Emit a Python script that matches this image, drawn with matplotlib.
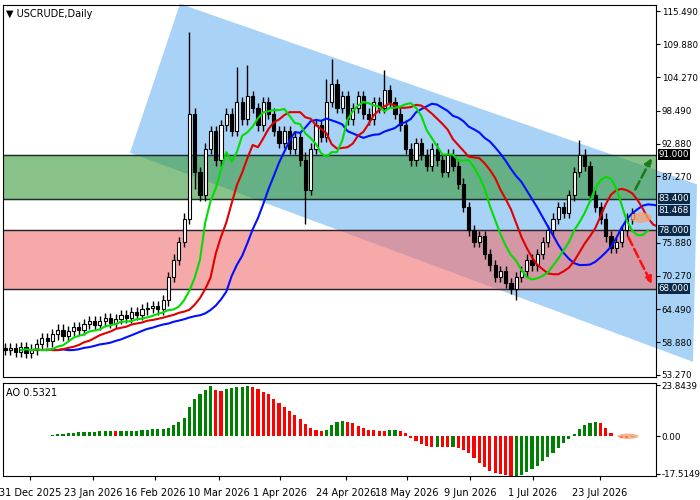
import numpy as np, pandas as pd, matplotlib
matplotlib.use("Agg")
import matplotlib.pyplot as plt
from matplotlib.patches import Polygon, Ellipse, Rectangle

closes = [57.5,57.8,57.2,58.0,57.0,57.6,
 58.5,59.5,59.0,60.2,61.0,60.0,60.8,61.5,61.0,62.0,62.5,
 61.8,62.5,63.0,62.2,62.8,63.5,63.0,64.0,63.5,64.5,64.8,65.0,64.5,
 66.0,70.0,73.0,76.0,80.0,98.0,
 88,84,92,95,90,96,
 98,95,100,97,101,99,96,100,98,95,93,
 95,92,94,90,85,
 92,96,94,100,103,99,101,
 97,99,101,98,97,100,99,
 102,100,98,96,92,90,
 93,91,89,92,90,88,91,89,86,82,
 78,76,77,74,72,70,71,
 69,68,70,71,73,72,74,
 76,78,80,82,81,84,88,
 91,89,84,
 82,80,77,75,76,
 78,80,81]
first_open = 57.8
extra_high = {35: 13.0, 44: 5.0, 46: 4.5, 61: 3.0, 62: 3.5, 72: 2.5, 57: 0.5, 109: 1.5}
extra_low = {57: 5.0, 36: 2.0, 97: 1.0}
levels = [91.0, 83.4, 78.0, 68.0]
price_ticks = [115.49,109.88,104.27,98.49,92.88,87.27,75.88,70.27,64.49,58.88,53.27]
price_tick_labels = ["115.490","109.880","104.270","98.490","92.880","87.270","75.880",
                     "70.270","64.490","58.880","53.270"]
box_values = [91.0, 83.4, 81.468, 78.0, 68.0]
box_labels = ["91.000", "83.400", "81.468", "78.000", "68.000"]
date_labels = ["31 Dec 2025","23 Jan 2026","16 Feb 2026","10 Mar 2026","1 Apr 2026",
               "24 Apr 2026","18 May 2026","9 Jun 2026","1 Jul 2026","23 Jul 2026"]
date_px = [30,93,155,219,280,346,407,470,533,600]

c = np.array(closes, float)
n = len(c)
o = np.concatenate([[first_open], c[:-1]])
hi = np.maximum(o, c) + 0.9
lo = np.minimum(o, c) - 0.9
for k, v in extra_high.items(): hi[k] += v
for k, v in extra_low.items(): lo[k] -= v

fig = plt.figure(figsize=(7, 5), dpi=100)
W, H = 700, 500
R = 656
ax = fig.add_axes([3/W, 1-377/H, (R-3)/W, 372/H])
ax2 = fig.add_axes([3/W, 1-476/H, (R-3)/W, 93/H], sharex=ax)
def px2i(x): return (x-5)/5.27
ax.set_xlim(px2i(3), px2i(R))
ax.set_ylim(52.9, 116.6)

ax.add_patch(Polygon([[px2i(180),116.8],[px2i(697),85.9],[px2i(693),55.5],[px2i(130),91.3]],
                     closed=True, fc="#99ccf5", ec="none", alpha=0.85, clip_on=False, zorder=0))
ax.axhspan(83.4, 91.0, color="#3a9a3a", alpha=0.6, zorder=1)
ax.axhspan(68.0, 78.0, color="#f07070", alpha=0.6, zorder=1)
for L in levels:
    ax.axhline(L, color="#202830", lw=1, zorder=2)

x = np.arange(n)
for i in range(n):
    ax.vlines(i, lo[i], hi[i], color="black", lw=1, zorder=4)
    bull = c[i] >= o[i]
    ax.add_patch(Rectangle((i-0.3, min(o[i], c[i])), 0.6, max(abs(c[i]-o[i]), 0.1),
                           fc="white" if bull else "black", ec="black", lw=0.8, zorder=5))

s = pd.Series(c)
for per, sh, col in [(13, 8, "#0010ff"), (8, 5, "#e00000"), (5, 3, "#00dd00")]:
    ma = s.rolling(per, min_periods=1).mean().values
    ax.plot(x + sh, ma, color=col, lw=1.5, zorder=6)
ax.add_patch(Ellipse((px2i(641), 80.2), 4, 1.8, fc="#f4a070", alpha=0.8, zorder=7))

ax.annotate("", xy=(px2i(653), 90.8), xytext=(px2i(634), 84.6),
            arrowprops=dict(arrowstyle="-|>", color="#1a7a1a", lw=1.8, ls="--"), zorder=8)
ax.annotate("", xy=(px2i(653), 68.4), xytext=(px2i(627), 77.3),
            arrowprops=dict(arrowstyle="-|>", color="#ff1010", lw=1.8, ls="--"), zorder=8)

ax.yaxis.tick_right()
ax.set_yticks(price_ticks)
ax.set_yticklabels(price_tick_labels, fontsize=6.3)
ax.tick_params(axis="y", length=3, pad=1)
ax.tick_params(axis="x", length=0, labelbottom=False)
for y, t in zip(box_values, box_labels):
    bc = "black" if t == "91.000" else "#0c2a48"
    ax.text(1.004, y, t, transform=ax.get_yaxis_transform(), fontsize=6.3, color="white",
            va="center", ha="left", bbox=dict(boxstyle="square,pad=0.12", fc=bc, ec="none"))
ax.text(0.005, 0.99, "▼ USCRUDE,Daily", transform=ax.transAxes, fontsize=7, va="top")

med = pd.Series((hi + lo) / 2)
ao = (med.rolling(5, min_periods=1).mean() - med.rolling(34, min_periods=1).mean()).values
cols = ["#008000" if i == 0 or ao[i] >= ao[i-1] else "#ff0000" for i in range(n)]
ax2.bar(x, ao, width=0.6, color=cols)
ax2.add_patch(Ellipse((px2i(628), 0), 4, 2.5, fc="#f4a070", alpha=0.8))
ax2.set_ylim(-18.5, 24.8)
ax2.yaxis.tick_right()
ax2.set_yticks([23.8439, 0.0, -17.5149])
ax2.set_yticklabels(["23.8439", "0.00", "-17.5149"], fontsize=6.3)
ax2.tick_params(axis="y", length=3, pad=1)
ax2.set_xticks([px2i(p) for p in date_px])
ax2.set_xticklabels(date_labels, fontsize=7)
ax2.tick_params(axis="x", length=3, pad=6)
ax2.text(0.005, 0.95, "AO 0.5321", transform=ax2.transAxes, fontsize=7, va="top")
fig.savefig("out.png", dpi=100)
